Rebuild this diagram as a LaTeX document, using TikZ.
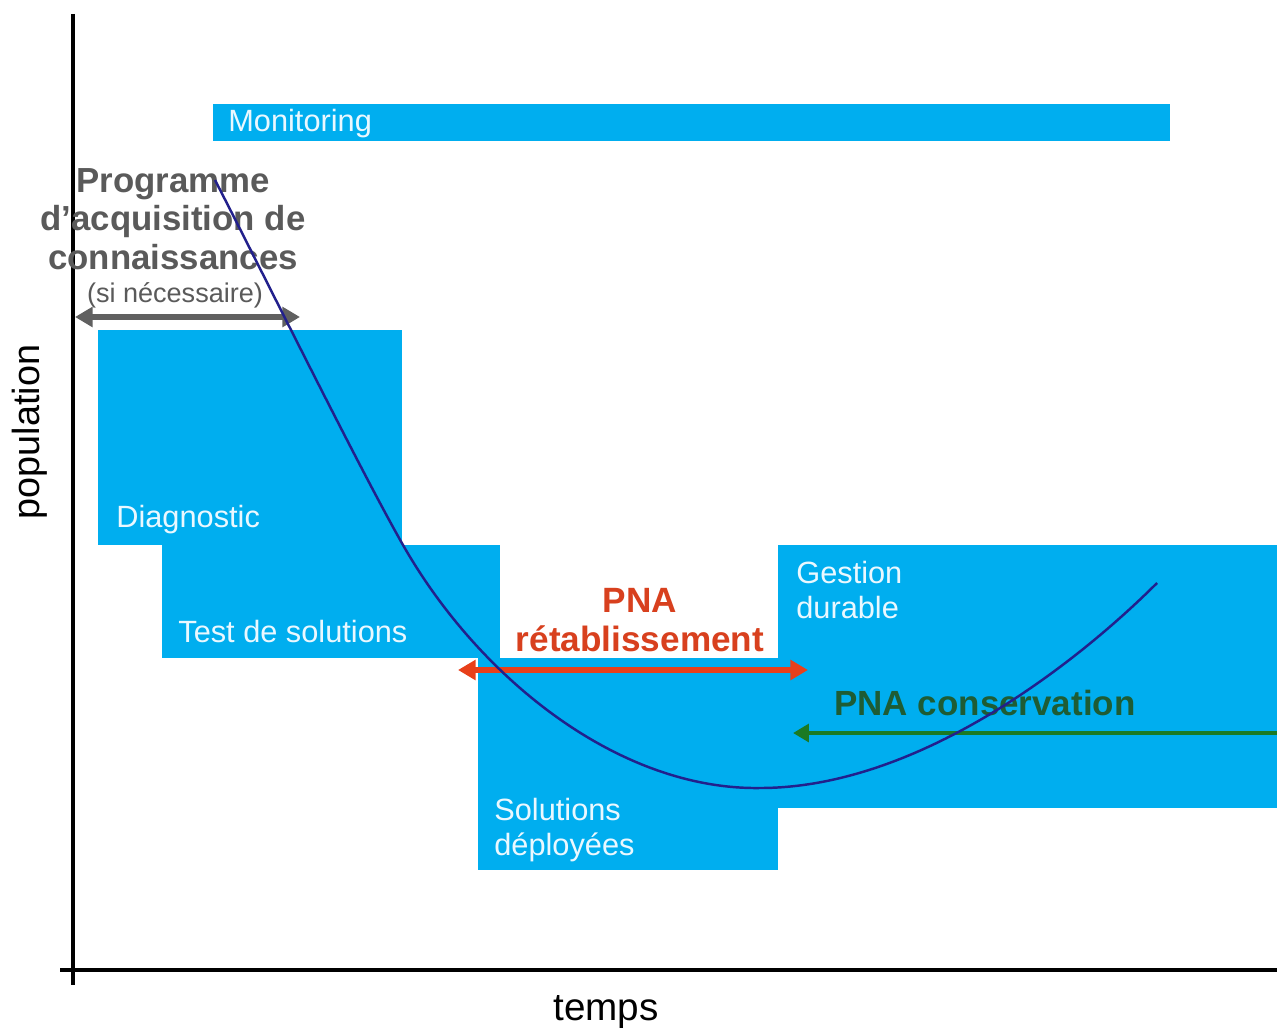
\documentclass[tikz,border=0pt]{standalone}
\usepackage{fontspec}
\setmainfont{Liberation Sans}
\usetikzlibrary{arrows.meta}
\definecolor{boxblue}{HTML}{00AEEF}
\definecolor{txtgray}{HTML}{5A5A5A}
\definecolor{arrgray}{HTML}{606060}
\definecolor{pnared}{HTML}{D8401E}
\definecolor{arrred}{HTML}{E8401A}
\definecolor{pnagreen}{HTML}{1E5C34}
\definecolor{arrgreen}{HTML}{1B7A24}
\definecolor{curveblue}{HTML}{22208C}
\definecolor{lbl}{HTML}{EAF8FF}
\tikzset{
  bluebox/.style={fill=boxblue},
  boxlabel/.style={text=lbl, anchor=west, inner sep=0pt, font=\fontsize{17.5}{19.5}\selectfont, align=left},
  axisline/.style={line width=1.8pt, black},
}
\begin{document}
\begin{tikzpicture}[x=0.02cm,y=-0.02cm]
\useasboundingbox[fill=white] (0,0) rectangle (1277,1034);
% boxes
\fill[bluebox] (213,104) rectangle (1170,141);
\fill[bluebox] (98,330) rectangle (402,545);
\fill[bluebox] (162,545) rectangle (500,658);
\fill[bluebox] (478,658) rectangle (778,870);
\fill[bluebox] (778,545) rectangle (1277,808);
% axes
\coordinate (ytop) at (73,14);
\coordinate (ybot) at (73,985);
\coordinate (xleft) at (60,970);
\coordinate (xright) at (1277,970);
\draw[axisline] (ytop) -- (ybot);
\draw[axisline] (xleft) -- (xright);
% labels in boxes
\node[boxlabel] (mon) at (228,124) {Monitoring};
\node[boxlabel] (diag) at (116,520) {Diagnostic};
\node[boxlabel] (test) at (178,632) {Test de solutions};
\node[boxlabel] (sol) at (494,830) {Solutions\\[0pt]déployées};
\node[boxlabel] (gest) at (796,590) {Gestion\\[0pt]durable};
% programme text
\node[text=txtgray, font=\bfseries\fontsize{19.8}{22}\selectfont, align=center, inner sep=0pt] (prog) at (173,219) {Programme\\d’acquisition de\\connaissances};
\node[text=txtgray, font=\fontsize{15.4}{17}\selectfont, inner sep=0pt] (si) at (175,295) {(si nécessaire)};
% PNA texts
\node[text=pnared, font=\bfseries\fontsize{20}{22}\selectfont, align=center, inner sep=0pt] (pnar) at (640,620) {PNA\\rétablissement};
\node[text=pnagreen, font=\bfseries\fontsize{19.9}{22}\selectfont, anchor=west, inner sep=0pt] (pnac) at (834,703) {PNA conservation};
% arrows
\coordinate (ga) at (75,317);
\coordinate (gb) at (300,317);
\draw[arrgray, line width=3.4pt, {Triangle[length=10pt,width=11pt]}-{Triangle[length=10pt,width=11pt]}] (ga) -- (gb);
\coordinate (ra) at (458,670);
\coordinate (rb) at (808,670);
\draw[arrred, line width=3.4pt, {Triangle[length=10pt,width=11pt]}-{Triangle[length=10pt,width=11pt]}] (ra) -- (rb);
\coordinate (gra) at (1277,733);
\coordinate (grb) at (793,733);
\draw[arrgreen, line width=2.8pt, -{Triangle[length=9pt,width=10pt]}] (gra) -- (grb);
% curve
\coordinate (c0) at (215,180);
\coordinate (c1) at (403,545);
\coordinate (c2) at (760,788);
\coordinate (c3) at (1157,583);
\draw[curveblue, line width=1.4pt] (c0) .. controls (265,277) and (358,466) .. (c1)
  .. controls (480,680) and (620,790) .. (c2)
  .. controls (920,788) and (1080,660) .. (c3);
% axis labels
\node[font=\fontsize{21.5}{24}\selectfont, rotate=90, inner sep=0pt] (pop) at (30,432) {population};
\node[font=\fontsize{22}{24}\selectfont, inner sep=0pt] (temps) at (606,1012) {temps};
\end{tikzpicture}
\end{document}
